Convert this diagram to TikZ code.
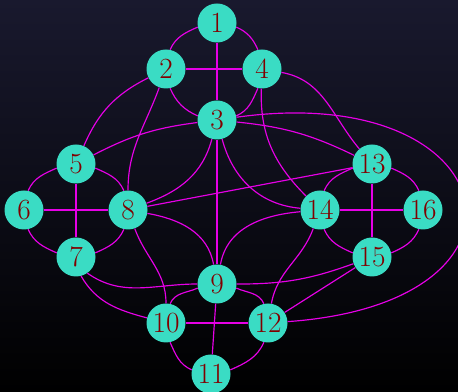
\documentclass[tikz,border=0pt]{standalone}
\usetikzlibrary{backgrounds}

\definecolor{bgtop}{RGB}{25,25,46}
\definecolor{vfill}{RGB}{58,220,196}
\definecolor{vtext}{RGB}{128,0,0}
\definecolor{linkcol}{RGB}{230,0,230}

\begin{document}
\begin{tikzpicture}[
  vertex/.style={circle, fill=vfill, text=vtext, minimum size=1.17cm,
                 inner sep=0pt, font=\fontsize{25}{30}\selectfont},
  link/.style={draw=linkcol, line width=1pt},
  % quarter arcs of each group ring (top->left->bottom->right->top)
  arcTL/.style={link, out=204, in=66},
  arcLB/.style={link, out=294, in=156},
  arcBR/.style={link, out=24, in=246},
  arcRT/.style={link, out=114, in=336},
]

% Canvas
\useasboundingbox (0,0) rectangle (13.74,11.76);
\fill[top color=bgtop, bottom color=black] (0,0) rectangle (13.74,11.76);

% Top group
\node[vertex] (n1) at (6.51, 11.07) {1};
\node[vertex] (n2) at (4.98, 9.69) {2};
\node[vertex] (n3) at (6.51, 8.16) {3};
\node[vertex] (n4) at (7.86, 9.69) {4};

% Left group
\node[vertex] (n5) at (2.28, 6.84) {5};
\node[vertex] (n6) at (0.72, 5.46) {6};
\node[vertex] (n7) at (2.28, 4.05) {7};
\node[vertex] (n8) at (3.84, 5.46) {8};

% Bottom group
\node[vertex] (n9) at (6.51, 3.24) {9};
\node[vertex] (n10) at (4.98, 2.07) {10};
\node[vertex] (n11) at (6.33, 0.54) {11};
\node[vertex] (n12) at (8.04, 2.07) {12};

% Right group
\node[vertex] (n13) at (11.16, 6.84) {13};
\node[vertex] (n14) at (9.60, 5.46) {14};
\node[vertex] (n15) at (11.16, 4.05) {15};
\node[vertex] (n16) at (12.69, 5.46) {16};

% Rings inside each group
\draw[arcTL] (n1.192) to (n2.78);
\draw[arcLB] (n2.282) to (n3.168);
\draw[arcBR] (n3.12) to (n4.258);
\draw[arcRT] (n4.102) to (n1.348);
\draw[link] (n1) -- (n3);
\draw[link] (n2) -- (n4);

\draw[arcTL] (n5.192) to (n6.78);
\draw[arcLB] (n6.282) to (n7.168);
\draw[arcBR] (n7.12) to (n8.258);
\draw[arcRT] (n8.102) to (n5.348);
\draw[link] (n5) -- (n7);
\draw[link] (n6) -- (n8);

\draw[arcTL] (n9.192) to (n10.78);
\draw[arcLB] (n10.282) to (n11.168);
\draw[arcBR] (n11.12) to (n12.258);
\draw[arcRT] (n12.102) to (n9.348);
\draw[link] (n9) -- (n11);
\draw[link] (n10) -- (n12);

\draw[arcTL] (n13.192) to (n14.78);
\draw[arcLB] (n14.282) to (n15.168);
\draw[arcBR] (n15.12) to (n16.258);
\draw[arcRT] (n16.102) to (n13.348);
\draw[link] (n13) -- (n15);
\draw[link] (n14) -- (n16);

% Links between groups
\draw[link] (n2) to[bend right=20] (n5);
\draw[link] (n2) to[out=-110, in=90] (n8);
\draw[link] (n3) to[bend right=10] (n5);
\draw[link] (n3) to[out=-105, in=20] (n8);
\draw[link] (n3) -- (n9);
\draw[link] (n3) to[out=-75, in=175] (n14);
\draw[link] (n3) to[bend left=10] (n13);
\draw[link] (n3) to[out=8, in=4, looseness=3.3] (n12);
\draw[link] (n4) to[out=-10, in=130] (n13);
\draw[link] (n4) to[out=-92, in=135] (n14);
\draw[link] (n8) -- (n13);
\draw[link] (n8) to[out=-10, in=100] (n9);
\draw[link] (n14) to[out=185, in=80] (n9);
\draw[link] (n8) to[out=-70, in=90] (n10);
\draw[link] (n7.-55) to[out=-35, in=180] (n9);
\draw[link] (n7.-75) to[out=-60, in=165] (n10);
\draw[link] (n14) to[out=-110, in=80] (n12);
\draw[link] (n15) to[bend left=10] (n9);
\draw[link] (n15) -- (n12);

\end{tikzpicture}
\end{document}
